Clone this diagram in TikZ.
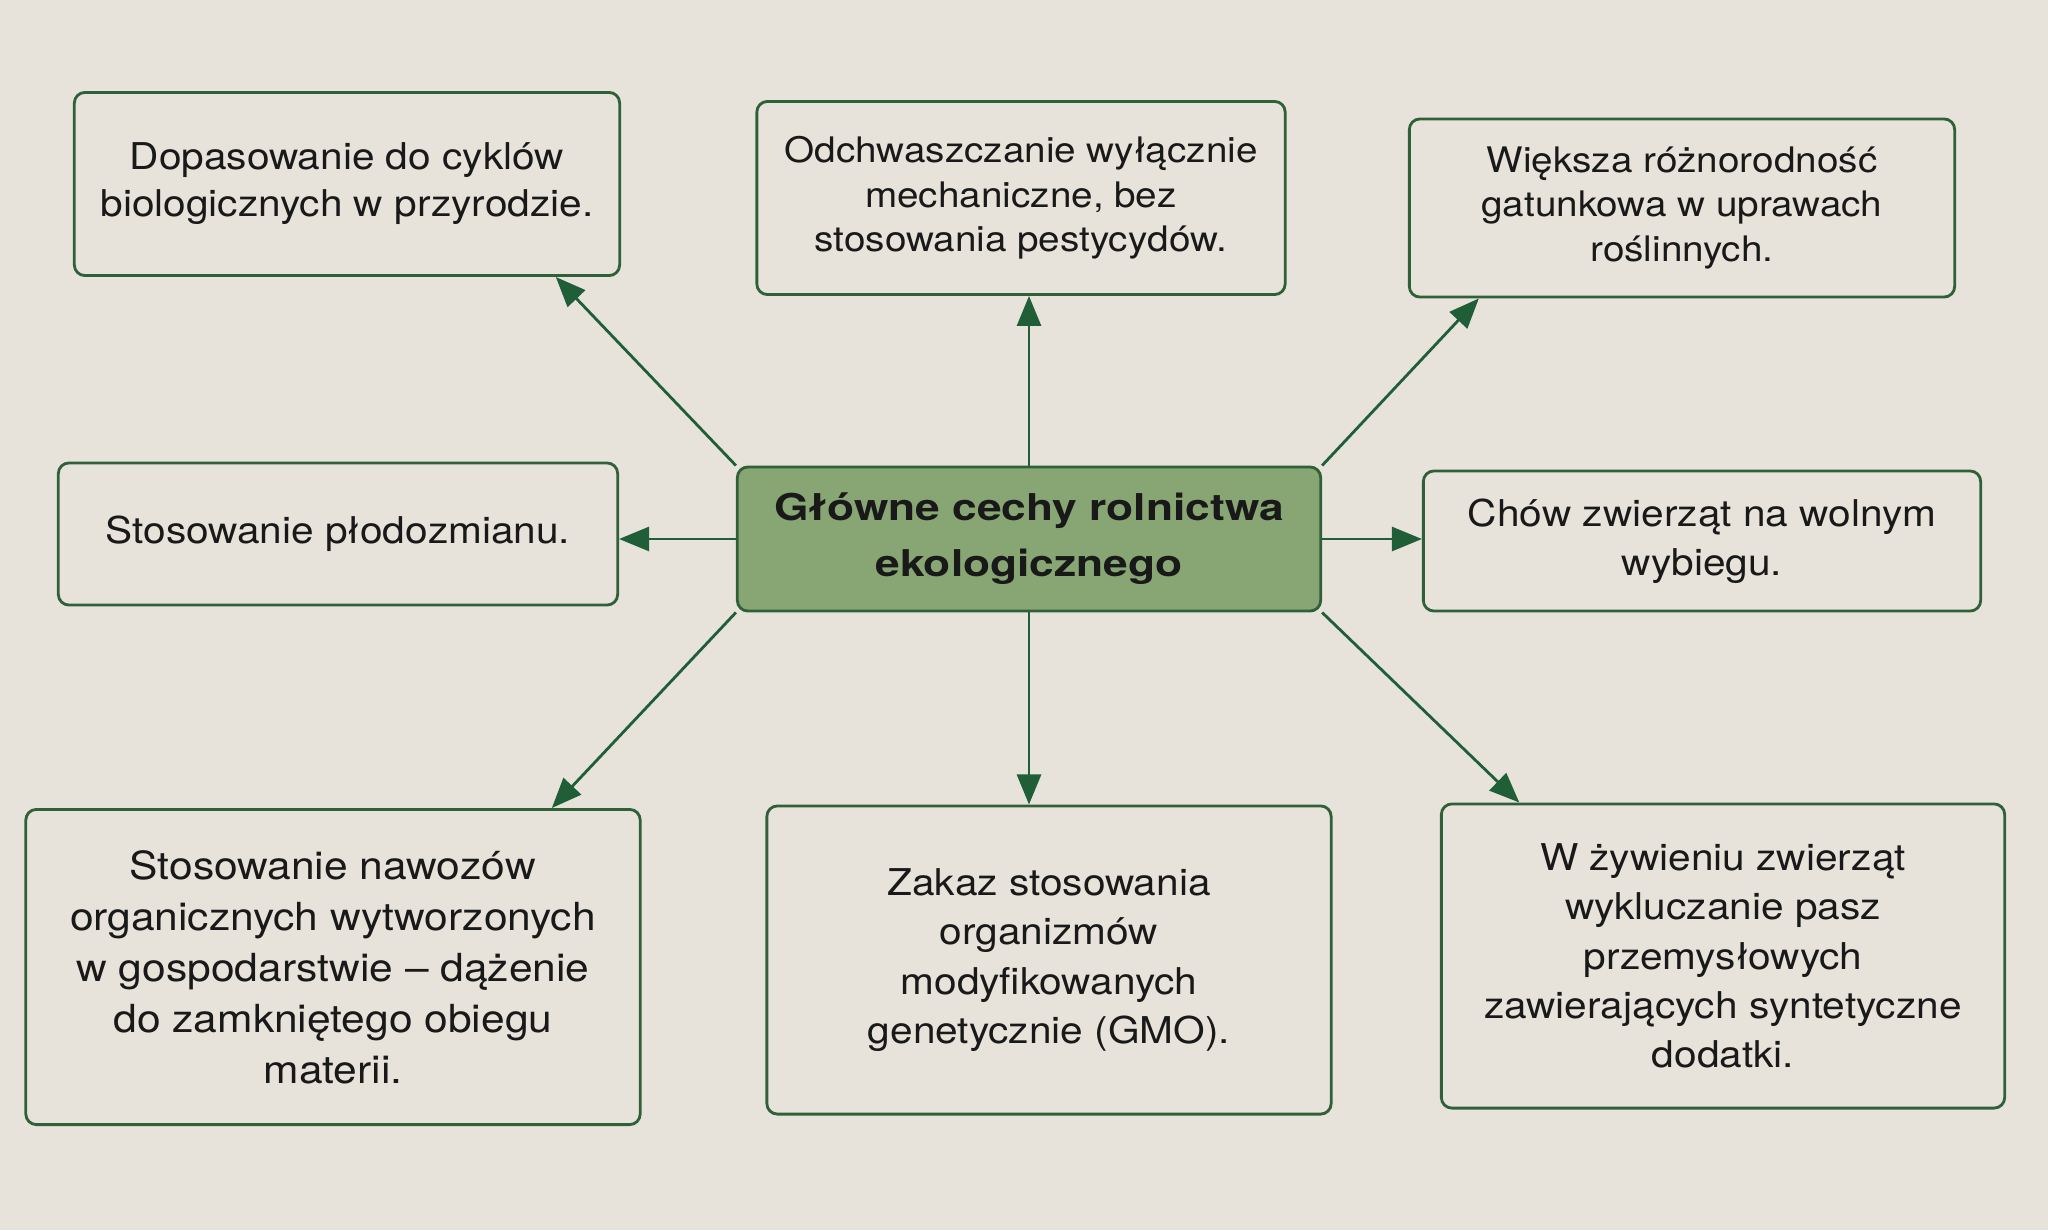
\documentclass[tikz,border=0pt]{standalone}
\usepackage[dvipsnames]{xcolor}
\usepackage{fontspec}
\setmainfont{TeX Gyre Heros}[FakeStretch=1.1]
\usetikzlibrary{arrows.meta,positioning}

\definecolor{paper}{HTML}{E7E3DB}
\definecolor{boxline}{HTML}{2F6038}
\definecolor{hubfill}{HTML}{87A673}
\definecolor{arrowgreen}{HTML}{1F5E36}

\begin{document}
\begin{tikzpicture}[->,>={Triangle[length=0.3cm,width=0.24cm]},thick,x=0.01cm,y=-0.01cm,
    leaf node/.style={draw=boxline,rounded corners=3pt,align=center,inner sep=0pt,text=black!90,font=\fontsize{10.5}{14}\selectfont},
    top node/.style={leaf node,font=\fontsize{10}{12.6}\selectfont},
    main node/.style={leaf node,fill=hubfill,font=\fontsize{10.5}{16}\selectfont\bfseries\addfontfeature{FakeStretch=1.2}}]
                    \fill[paper] (0,0) rectangle (2048,1230);

                    \node[main node, minimum width=5.83cm, minimum height=1.44cm] (0) at (1029,539) {Główne cechy rolnictwa\\ekologicznego};

                    \node[leaf node, minimum width=5.45cm, minimum height=1.83cm, font=\fontsize{10.5}{13.4}\selectfont] (1) at (347,184) {Dopasowanie do cyklów\\biologicznych w przyrodzie.};
                    \node[top node, minimum width=5.28cm, minimum height=1.93cm] (2) at (1021,198) {Odchwaszczanie wyłącznie\\mechaniczne, bez\\stosowania pestycydów.};
                    \node[top node, minimum width=5.45cm, minimum height=1.78cm] (3) at (1682,208) {Większa różnorodność\\gatunkowa w uprawach\\roślinnych.};
                    \node[leaf node, minimum width=5.59cm, minimum height=1.42cm] (4) at (338,534) {Stosowanie płodozmianu.};
                    \node[leaf node, minimum width=5.57cm, minimum height=1.40cm] (5) at (1702,541) {Chów zwierząt na wolnym\\wybiegu.};
                    \node[leaf node, minimum width=6.14cm, minimum height=3.15cm, font=\fontsize{11}{14.5}\selectfont] (6) at (333,967) {Stosowanie nawozów\\organicznych wytworzonych\\w gospodarstwie -- dążenie\\do zamkniętego obiegu\\materii.};
                    \node[leaf node, minimum width=5.64cm, minimum height=3.08cm] (7) at (1049,960) {Zakaz stosowania\\organizmów\\modyfikowanych\\genetycznie (GMO).};
                    \node[leaf node, minimum width=5.63cm, minimum height=3.04cm] (8) at (1723,956) {W żywieniu zwierząt\\wykluczanie pasz\\przemysłowych\\zawierających syntetyczne\\dodatki.};

                    \path[color=arrowgreen]
                        (0.north west) edge (1.-24)
                        (0.north) edge (0.north |- 2.south)
                        (0.north east) edge (3.204)
                        (0.west) edge (0.west -| 4.east)
                        (0.east) edge (0.east -| 5.west)
                        (0.south west) edge (6.36.5)
                        (0.south) edge (0.south |- 7.north)
                        (0.south east) edge (8.143.6)
                        ;
                \end{tikzpicture}
\end{document}
